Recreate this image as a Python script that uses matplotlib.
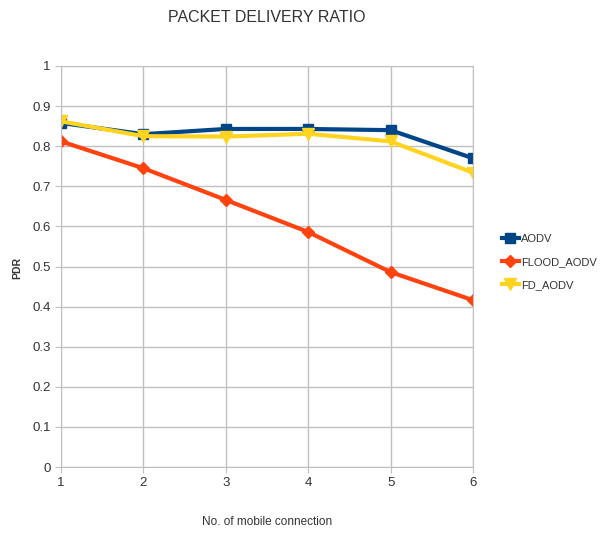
import matplotlib
matplotlib.use("Agg")
import matplotlib.pyplot as plt

plt.rcParams['font.family'] = ['Liberation Sans', 'DejaVu Sans']

connections = [1, 2, 3, 4, 5, 6]
aodv = [0.858, 0.830, 0.843, 0.843, 0.840, 0.770]
flood_aodv = [0.812, 0.745, 0.666, 0.586, 0.486, 0.416]
fd_aodv = [0.862, 0.825, 0.824, 0.831, 0.812, 0.734]

fig = plt.figure(figsize=(6.04, 5.33), dpi=100)
ax = fig.add_axes([61/604, 1 - 467/533, (473-61)/604, (467-66)/533])

ax.plot(connections, aodv, color='#004586', lw=3, marker='s', ms=7, label='AODV')
ax.plot(connections, flood_aodv, color='#ff420e', lw=3, marker='D', ms=6, label='FLOOD_AODV')
ax.plot(connections, fd_aodv, color='#ffd320', lw=3, marker='v', ms=8, label='FD_AODV')

ax.set_xlim(1, 6)
ax.set_ylim(0, 1)
ax.set_xticks(connections)
yt = [i / 10 for i in range(11)]
ax.set_yticks(yt)
ax.set_yticklabels(['0'] + [f'{v:.1f}' for v in yt[1:-1]] + ['1'])
ax.grid(True, color='#c0c0c0', lw=1)
ax.set_axisbelow(True)
for s in ax.spines.values():
    s.set_color('#c0c0c0')
ax.tick_params(colors='#c0c0c0', labelcolor='#333333', labelsize=9.5, length=4)

fig.text(267/604, 1 - 18/533, 'PACKET DELIVERY RATIO', ha='center', va='center',
         fontsize=11.5, color='#333333')
fig.text(267/604, 1 - 522/533, 'No. of mobile connection', ha='center', va='center',
         fontsize=8.5, color='#333333')
fig.text(17/604, 1 - 268/533, 'PDR', ha='center', va='center', rotation=90,
         fontsize=7.5, fontweight='bold', color='#333333')

leg = fig.legend(loc='center left', bbox_to_anchor=(502/604, 1 - 262/533), frameon=False,
                 fontsize=8, handlelength=1.5, handletextpad=0.2, labelspacing=1.15,
                 borderaxespad=0, borderpad=0)
for t in leg.get_texts():
    t.set_color('#333333')

fig.savefig('out.png', dpi=100, facecolor='white')
